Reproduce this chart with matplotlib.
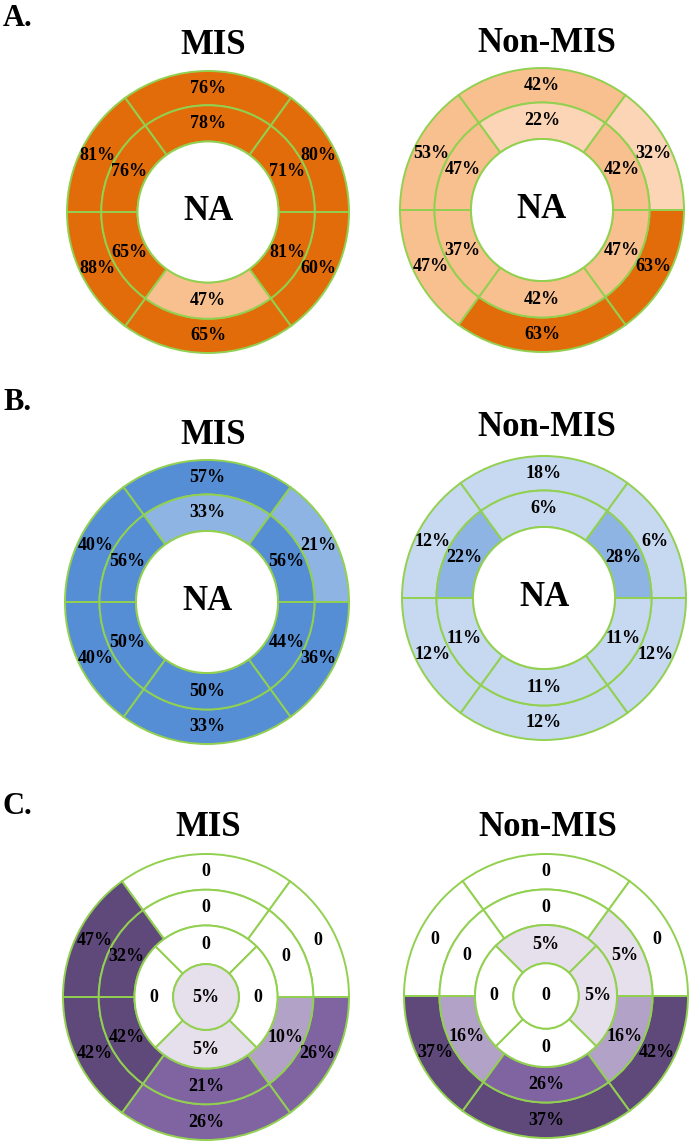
import matplotlib.pyplot as plt
from matplotlib.patches import Wedge, Circle
import numpy as np

W, H = 693, 1144

# segment order for the two six-part rings: top, upper-right, lower-right, bottom, lower-left, upper-left
# apical ring (panel C): top, right, bottom, left
a_mis_outer = [76, 80, 60, 65, 88, 81]
a_mis_mid = [78, 71, 81, 47, 65, 76]
a_non_outer = [42, 32, 63, 63, 47, 53]
a_non_mid = [22, 42, 47, 42, 37, 47]

b_mis_outer = [57, 21, 36, 33, 40, 40]
b_mis_mid = [33, 56, 44, 50, 50, 56]
b_non_outer = [18, 6, 12, 12, 12, 12]
b_non_mid = [6, 28, 11, 11, 11, 22]

c_mis_outer = [0, 0, 26, 26, 42, 47]
c_mis_mid = [0, 0, 10, 21, 42, 32]
c_mis_apical = [0, 0, 5, 0]
c_mis_apex = 5
c_non_outer = [0, 0, 42, 37, 37, 0]
c_non_mid = [0, 5, 16, 26, 16, 0]
c_non_apical = [5, 5, 0, 0]
c_non_apex = 0

# shade level of each segment (index into the panel palette)
a_mis_outer_lv = [3, 3, 3, 3, 3, 3]
a_mis_mid_lv = [3, 3, 3, 2, 3, 3]
a_non_outer_lv = [2, 1, 3, 3, 2, 2]
a_non_mid_lv = [1, 2, 2, 2, 2, 2]
b_mis_outer_lv = [3, 2, 3, 3, 3, 3]
b_mis_mid_lv = [2, 3, 3, 3, 3, 3]
b_non_outer_lv = [1, 1, 1, 1, 1, 1]
b_non_mid_lv = [1, 2, 1, 1, 1, 2]
c_mis_outer_lv = [0, 0, 3, 3, 4, 4]
c_mis_mid_lv = [0, 0, 2, 3, 4, 4]
c_mis_apical_lv = [0, 0, 1, 0]
c_mis_apex_lv = 1
c_non_outer_lv = [0, 0, 4, 4, 4, 0]
c_non_mid_lv = [0, 1, 2, 3, 2, 0]
c_non_apical_lv = [1, 1, 0, 0]
c_non_apex_lv = 0

orange = ['white', '#FBD5B6', '#F9C08F', '#E36C0A']
blue = ['white', '#C6D9F1', '#8EB4E3', '#558ED5']
purple = ['white', '#E5E0EC', '#B3A2C7', '#8064A2', '#5F497A']

edge = '#92D050'
serif = 'Liberation Serif'

six_spans = [(54, 126), (0, 54), (-54, 0), (-126, -54), (180, 234), (126, 180)]
four_spans = [(45, 135), (-45, 45), (-135, -45), (135, 225)]

fig = plt.figure(figsize=(W / 100, H / 100), dpi=100)


def label(v):
    return '0' if v == 0 else f'{v}%'


def ring(ax, vals, lvls, pal, spans, r_in, r_out):
    for v, lv, (t1, t2) in zip(vals, lvls, spans):
        ax.add_patch(Wedge((0, 0), r_out, t1, t2, width=r_out - r_in,
                           facecolor=pal[lv], edgecolor=edge, lw=1.4))
        a = np.deg2rad((t1 + t2) / 2)
        r = (r_in + r_out) / 2
        ax.text(r * np.cos(a), r * np.sin(a), label(v), ha='center', va='center',
                fontsize=13, fontweight='bold', family=serif)


def make_axes(cx, cy, R):
    s = 2 * R * 1.05
    ax = fig.add_axes([(cx - s / 2) / W, 1 - (cy + s / 2) / H, s / W, s / H])
    ax.set_xlim(-1.05, 1.05)
    ax.set_ylim(-1.05, 1.05)
    ax.set_aspect('equal')
    ax.axis('off')
    return ax


def donut(cx, cy, R, outer, outer_lv, mid, mid_lv, pal):
    ax = make_axes(cx, cy, R)
    ring(ax, outer, outer_lv, pal, six_spans, 0.757, 1.0)
    ring(ax, mid, mid_lv, pal, six_spans, 0.5, 0.757)
    ax.add_patch(Circle((0, 0), 0.5, facecolor='white', edgecolor=edge, lw=1.4))
    ax.text(0, 0, 'NA', ha='center', va='center', fontsize=25,
            fontweight='bold', family=serif)


def bullseye(cx, cy, R, outer, outer_lv, mid, mid_lv, apical, apical_lv, apex, apex_lv, pal):
    ax = make_axes(cx, cy, R)
    ring(ax, outer, outer_lv, pal, six_spans, 0.75, 1.0)
    ring(ax, mid, mid_lv, pal, six_spans, 0.5, 0.75)
    ring(ax, apical, apical_lv, pal, four_spans, 0.23, 0.5)
    ax.add_patch(Circle((0, 0), 0.23, facecolor=pal[apex_lv], edgecolor=edge, lw=1.4))
    ax.text(0, 0, label(apex), ha='center', va='center', fontsize=13,
            fontweight='bold', family=serif)


def ftext(x, y, s, size, ha='center'):
    fig.text(x / W, 1 - y / H, s, ha=ha, va='center', fontsize=size,
             fontweight='bold', family=serif)


# panel A
ftext(3, 18, 'A.', 22, ha='left')
ftext(213, 46, 'MIS', 25)
ftext(547, 43, 'Non-MIS', 25)
donut(208, 212, 141, a_mis_outer, a_mis_outer_lv, a_mis_mid, a_mis_mid_lv, orange)
donut(542, 210, 142, a_non_outer, a_non_outer_lv, a_non_mid, a_non_mid_lv, orange)

# panel B
ftext(3, 403, 'B.', 22, ha='left')
ftext(213, 435, 'MIS', 25)
ftext(547, 428, 'Non-MIS', 25)
donut(207, 602, 142, b_mis_outer, b_mis_outer_lv, b_mis_mid, b_mis_mid_lv, blue)
donut(544, 598, 142, b_non_outer, b_non_outer_lv, b_non_mid, b_non_mid_lv, blue)

# panel C
ftext(3, 806, 'C.', 22, ha='left')
ftext(208, 828, 'MIS', 25)
ftext(548, 827, 'Non-MIS', 25)
bullseye(206, 997, 143, c_mis_outer, c_mis_outer_lv, c_mis_mid, c_mis_mid_lv,
         c_mis_apical, c_mis_apical_lv, c_mis_apex, c_mis_apex_lv, purple)
bullseye(546, 996, 142, c_non_outer, c_non_outer_lv, c_non_mid, c_non_mid_lv,
         c_non_apical, c_non_apical_lv, c_non_apex, c_non_apex_lv, purple)

plt.savefig('out.png', dpi=100)
